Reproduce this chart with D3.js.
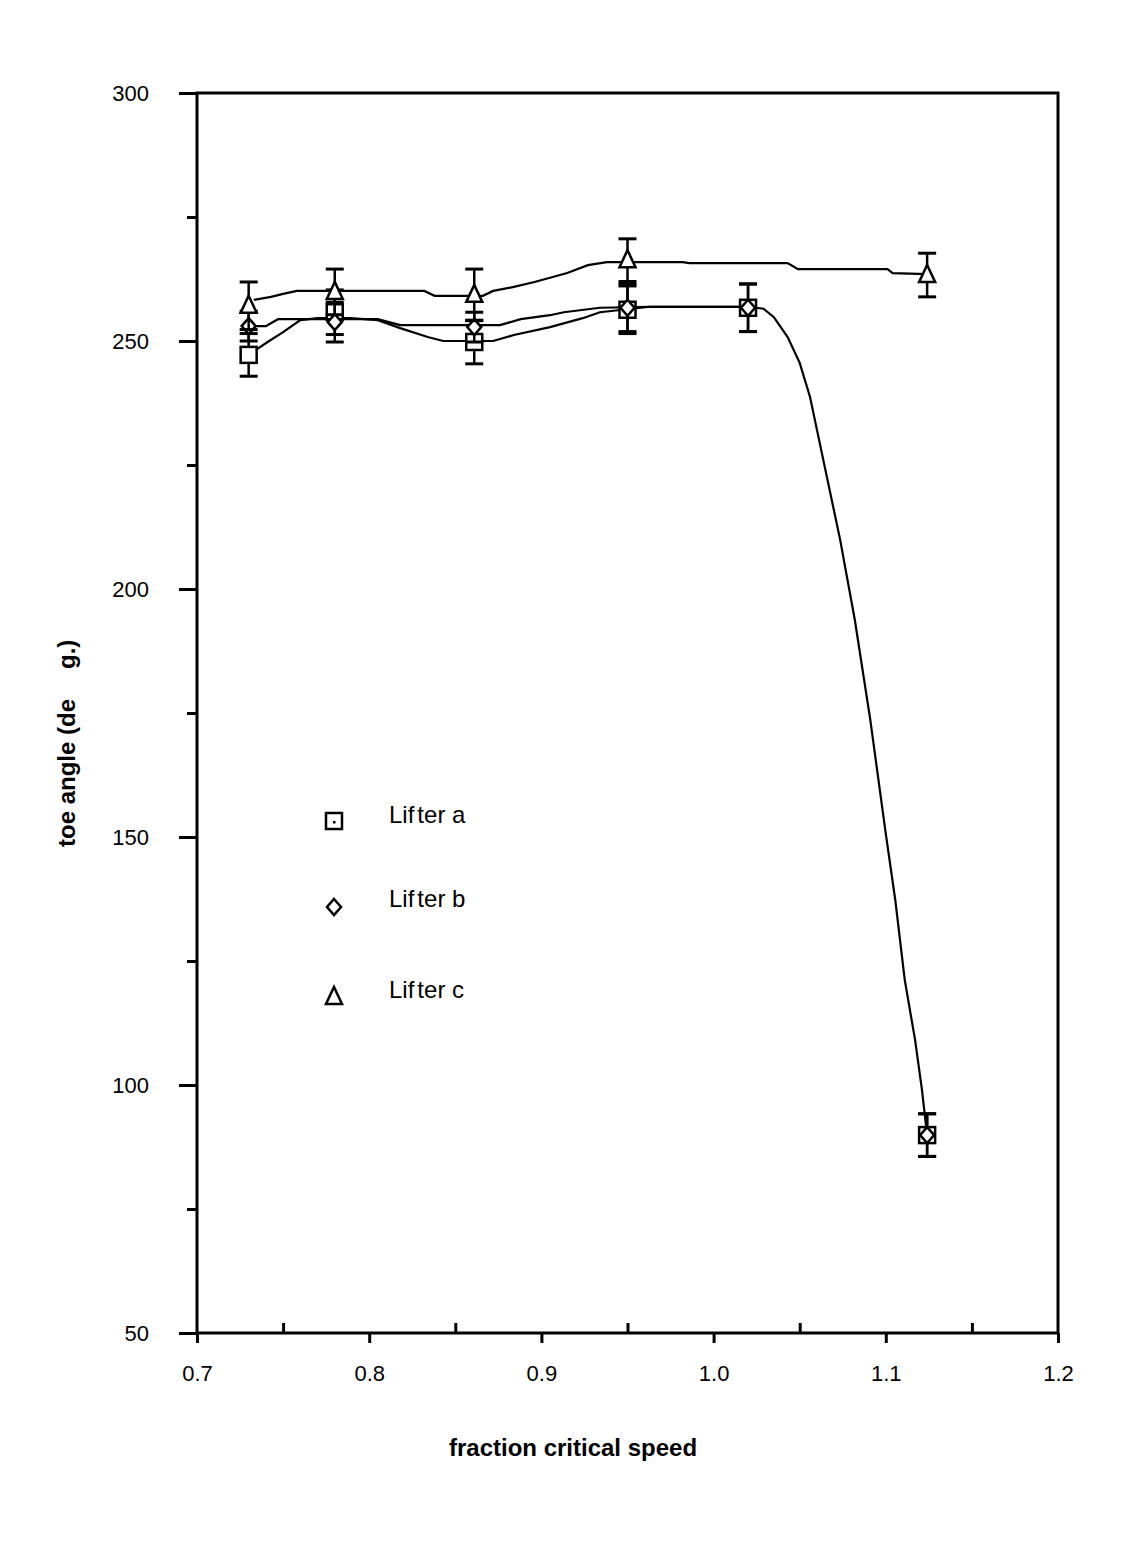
<!DOCTYPE html>
<html><head><meta charset="utf-8">
<script src="https://cdn.jsdelivr.net/npm/d3@7"></script>
<style>body{margin:0;background:#fff}svg{display:block}text{font-family:"Liberation Sans",Arial,sans-serif;fill:#000}</style>
</head><body><svg id="c" width="1123" height="1542"></svg>
<script>
// ---- data ----
const speeds = [0.73, 0.78, 0.861, 0.95, 1.02, 1.124];
const lifterA = [247.2, 255.8, 249.8, 256.3, 256.7, 89.9];
const lifterB = [253.0, 253.8, 252.8, 256.7, 256.7, 89.9];
const lifterC = [257.1, 259.9, 259.3, 266.3, null, 263.3];
const errA = [4.3, 4.5, 4.4, 4.8, 4.8, 4.3];
const errB = [3.0, 4.0, 3.0, 4.8, 4.8, 4.3];
const errC = [4.8, 4.6, 5.2, 4.3, null, 4.4];
// smooth fitted curves
const curveAx = [0.73,0.741,0.75,0.76,0.77,0.789,0.805,0.818,0.834,0.843,0.872,0.884,0.905,0.924,0.934,0.963,1.02,1.029,1.035,1.043,1.05,1.056,1.0735,1.082,1.091,1.0997,1.1055,1.111,1.117,1.121,1.124];
const curveAy = [247.2,249.8,251.8,254.2,254.6,254.6,254.2,252.6,250.8,250,250,251.2,252.8,254.6,255.8,256.9,256.9,256.5,254.8,250.8,245.6,238.7,209.9,193.8,173.6,151.4,137.3,121.2,109.1,99.0,89.9];
const curveBx = [0.73,0.74,0.747,0.805,0.818,0.876,0.888,0.905,0.913,0.934,0.963,1.02];
const curveBy = [253.0,253.0,254.4,254.4,253.2,253.2,254.4,255.2,255.8,256.7,256.9,256.9];
const curveCx = [0.733,0.743,0.75,0.758,0.832,0.838,0.866,0.872,0.884,0.896,0.915,0.927,0.938,0.982,0.986,1.043,1.049,1.101,1.104,1.124];
const curveCy = [258.3,258.9,259.5,260.1,260.1,259.1,259.1,260.1,260.9,261.9,263.7,265.3,265.9,265.9,265.7,265.7,264.5,264.5,263.7,263.5];
const xTicks = [0.7, 0.8, 0.9, 1.0, 1.1, 1.2];
const xMinor = [0.75, 0.85, 0.95, 1.05, 1.15];
const yTicks = [300, 250, 200, 150, 100, 50];
const yMinor = [275, 225, 175, 125, 75];
const legendLabels = ["Lifter a", "Lifter b", "Lifter c"];

// ---- layout ----
const svg = d3.select("#c");
const x = d3.scaleLinear().domain([0.7, 1.2]).range([197, 1058]);
const y = d3.scaleLinear().domain([50, 300]).range([1333, 93]);

const g = svg.append("g");
g.append("g").attr("transform", `translate(${x(0.7)},0)`)
  .call(d3.axisLeft(y).tickValues(yTicks).tickSize(18).tickPadding(30).tickFormat(d3.format("d")))
  .call(s => { s.select(".domain").remove(); s.selectAll("line").attr("stroke-width", 3);
    s.selectAll("text").attr("font-size", 22).attr("dy", "0.35em"); });
g.append("g").attr("transform", `translate(${x(0.7)},0)`)
  .call(d3.axisLeft(y).tickValues(yMinor).tickSize(10).tickFormat(""))
  .call(s => { s.select(".domain").remove(); s.selectAll("line").attr("stroke-width", 3); });
g.append("g").attr("transform", `translate(0,${y(50)})`)
  .call(d3.axisBottom(x).tickValues(xTicks).tickSize(10).tickPadding(22).tickFormat(d3.format(".1f")))
  .call(s => { s.select(".domain").remove(); s.selectAll("line").attr("stroke-width", 3);
    s.selectAll("text").attr("font-size", 22); });
g.append("g").attr("transform", `translate(0,${y(50)})`)
  .call(d3.axisTop(x).tickValues(xMinor).tickSize(10).tickFormat(""))
  .call(s => { s.select(".domain").remove(); s.selectAll("line").attr("stroke-width", 3); });
g.append("rect").attr("x", x(0.7)).attr("y", y(300)).attr("width", x(1.2) - x(0.7)).attr("height", y(50) - y(300))
  .attr("fill", "none").attr("stroke", "#000").attr("stroke-width", 3);

// axis titles
svg.append("text").attr("x", 573).attr("y", 1456).attr("text-anchor", "middle")
  .attr("font-size", 24).attr("font-weight", "bold").text("fraction critical speed");
const yl = svg.append("text").attr("transform", `translate(75,847) rotate(-90)`)
  .attr("font-size", 24).attr("font-weight", "bold");
yl.append("tspan").text("toe angle (de");
yl.append("tspan").attr("dx", 30).text("g.)");

// series
const line = d3.line().x(d => x(d[0])).y(d => y(d[1])).curve(d3.curveLinear);
const series = [
  {vals: lifterA, err: errA, cx: curveAx, cy: curveAy, sym: "square"},
  {vals: lifterB, err: errB, cx: curveBx, cy: curveBy, sym: "diamond"},
  {vals: lifterC, err: errC, cx: curveCx, cy: curveCy, sym: "triangle"}
];
function marker(sel, sym, cx, cy) {
  if (sym === "square") sel.append("rect").attr("x", cx - 8).attr("y", cy - 8).attr("width", 16).attr("height", 16);
  else if (sym === "diamond") sel.append("path").attr("d", `M${cx},${cy-8}L${cx+7},${cy}L${cx},${cy+8}L${cx-7},${cy}Z`);
  else sel.append("path").attr("d", `M${cx},${cy-10}L${cx+8},${cy+7}L${cx-8},${cy+7}Z`);
}
series.forEach(s => {
  const sg = svg.append("g");
  sg.append("path").attr("d", line(s.cx.map((v, i) => [v, s.cy[i]]))).attr("fill", "none").attr("stroke", "#000").attr("stroke-width", 2.2);
  speeds.forEach((sp, i) => {
    if (s.vals[i] == null) return;
    const px = x(sp), lo = y(s.vals[i] - s.err[i]), hi = y(s.vals[i] + s.err[i]);
    sg.append("line").attr("x1", px).attr("x2", px).attr("y1", lo).attr("y2", hi).attr("stroke", "#000").attr("stroke-width", 2.5);
    [lo, hi].forEach(yy => sg.append("line").attr("x1", px - 9).attr("x2", px + 9).attr("y1", yy).attr("y2", yy).attr("stroke", "#000").attr("stroke-width", 3));
    const m = sg.append("g").attr("fill", "#fff").attr("stroke", "#000").attr("stroke-width", 2.5);
    marker(m, s.sym, px, y(s.vals[i]));
  });
});

// legend
const legY = [821, 907, 997];
const legBase = [823, 907, 998];
legendLabels.forEach((lab, i) => {
  const m = svg.append("g").attr("fill", "#fff").attr("stroke", "#000").attr("stroke-width", 2.5);
  marker(m, series[i].sym, 334, legY[i]);
  if (i === 0) svg.append("rect").attr("x", 333).attr("y", 821).attr("width", 2.5).attr("height", 2.5).attr("fill", "#000");
  const t = svg.append("text").attr("x", 389).attr("y", legBase[i]).attr("font-size", 24);
  t.append("tspan").text(lab.slice(0, 3));
  t.append("tspan").attr("dx", 3).text(lab.slice(3));
});
</script></body></html>
